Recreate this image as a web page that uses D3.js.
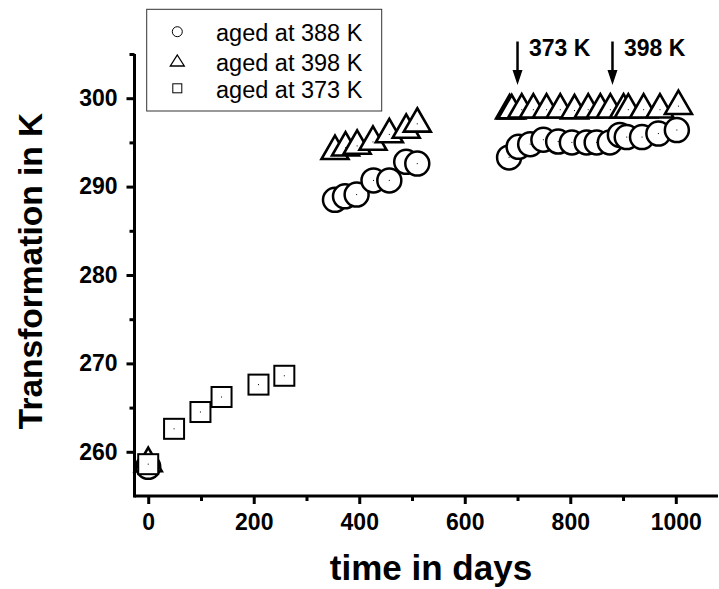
<!DOCTYPE html>
<html>
<head>
<meta charset="utf-8">
<script src="https://cdn.jsdelivr.net/npm/d3@7"></script>
<style>
  html, body { margin: 0; padding: 0; background: #fff; }
  svg { display: block; font-family: "Liberation Sans", Arial, Helvetica, sans-serif; }
</style>
</head>
<body>
<script>
// ---- data ----
const xTicks = [0, 200, 400, 600, 800, 1000];
const xMinorTicks = [100, 300, 500, 700, 900];
const yTicks = [260, 270, 280, 290, 300];
const yMinorTicks = [265, 275, 285, 295, 305];

// aged at 388 K (circles)
const c388Days = [0, 354, 373, 395, 427, 457, 489, 510, 684, 702, 724, 749, 777, 803, 831, 850, 875, 894, 907, 936, 967, 1002];
const c388Vals = [258.3, 288.5, 288.9, 289.1, 290.7, 290.7, 292.8, 292.6, 293.3, 294.5, 294.8, 295.3, 295.1, 295.0, 295.0, 295.0, 295.0, 295.85, 295.6, 295.6, 296.0, 296.4];

// aged at 398 K (triangles)
const t398Days = [0, 354, 374, 396, 426, 457, 489, 510, 685, 689, 708, 730, 755, 781, 808, 834, 857, 876, 901, 910, 939, 970, 1005];
const t398Vals = [258.7, 294.0, 294.4, 294.6, 295.05, 295.9, 296.4, 297.1, 298.6, 298.6, 298.7, 298.7, 298.7, 298.7, 298.6, 298.7, 298.7, 298.7, 298.7, 298.7, 298.7, 298.7, 299.1];

// aged at 373 K (squares)
const s373Days = [0, 49, 99, 139, 209, 258];
const s373Vals = [258.6, 262.6, 264.5, 266.2, 267.6, 268.6];

const legendLabels = ["aged at 388 K", "aged at 398 K", "aged at 373 K"];
const arrowDays = [700, 880];
const arrowLabels = ["373 K", "398 K"];

// ---- layout ----
const W = 719, H = 589;
const svg = d3.select("body").append("svg").attr("width", W).attr("height", H);

const x = d3.scaleLinear().domain([-26, 1080]).range([134.5, 718]);
const y = d3.scaleLinear().domain([255, 305]).range([496, 54]);

// ---- markers ----
const triPath = (() => {
  const hw = 13.5, h = 23.4;
  return `M0,${-h * 2 / 3}L${hw},${h / 3}L${-hw},${h / 3}Z`;
})();

function drawMarkers(days, vals, kind) {
  const g = svg.append("g");
  days.forEach((d, i) => {
    const m = g.append("g").attr("transform", `translate(${x(d)},${y(vals[i])})`);
    if (kind === "circle") {
      m.append("circle").attr("r", 12).attr("fill", "#fff").attr("stroke", "#000").attr("stroke-width", 2.5);
    } else if (kind === "tri") {
      m.append("path").attr("d", triPath).attr("fill", "#fff").attr("stroke", "#000")
        .attr("stroke-width", 2.6).attr("stroke-linejoin", "miter");
    } else {
      m.append("rect").attr("x", -10).attr("y", -10).attr("width", 20).attr("height", 20)
        .attr("fill", "#fff").attr("stroke", "#000").attr("stroke-width", 2);
    }
    m.append("rect").attr("x", -0.5).attr("y", -0.5).attr("width", 1).attr("height", 1).attr("fill", "#000");
  });
}
drawMarkers(c388Days, c388Vals, "circle");
drawMarkers(t398Days, t398Vals, "tri");
drawMarkers(s373Days, s373Vals, "square");

// ---- axes ----
const fontTick = 23;
const xAxis = svg.append("g").attr("transform", `translate(0,${y(255)})`)
  .call(d3.axisBottom(x).tickValues(xTicks).tickSize(8).tickPadding(10).tickFormat(d3.format("d")));
const xMinor = svg.append("g").attr("transform", `translate(0,${y(255)})`)
  .call(d3.axisBottom(x).tickValues(xMinorTicks).tickSize(5).tickFormat(""));
const yAxis = svg.append("g").attr("transform", `translate(${x(-26)},0)`)
  .call(d3.axisLeft(y).tickValues(yTicks).tickSize(8).tickPadding(9).tickFormat(d3.format("d")));
const yMinor = svg.append("g").attr("transform", `translate(${x(-26)},0)`)
  .call(d3.axisLeft(y).tickValues(yMinorTicks).tickSize(5).tickFormat(""));

[xAxis, xMinor, yAxis, yMinor].forEach(a => {
  a.select(".domain").remove();
  a.selectAll(".tick line").attr("stroke", "#000").attr("stroke-width", 3);
  a.selectAll(".tick text").attr("fill", "#000").style("font-size", fontTick + "px")
    .style("font-weight", "bold").style("font-family", '"Liberation Sans", Arial, sans-serif');
});
// axis lines
svg.append("line").attr("x1", x(-26)).attr("x2", x(1080)).attr("y1", y(255)).attr("y2", y(255))
  .attr("stroke", "#000").attr("stroke-width", 3);
svg.append("line").attr("x1", x(-26)).attr("x2", x(-26)).attr("y1", y(255) + 1.5).attr("y2", y(305))
  .attr("stroke", "#000").attr("stroke-width", 3);

// axis titles
svg.append("text").attr("x", 431).attr("y", 580).attr("text-anchor", "middle")
  .style("font-size", "35px").style("font-weight", "bold").text("time in days");
svg.append("text").attr("transform", "translate(41.5,271) rotate(-90)").attr("text-anchor", "middle")
  .style("font-size", "33.5px").style("font-weight", "bold").text("Transformation in K");

// ---- arrows & annotations ----
arrowDays.forEach((d, i) => {
  const ax = x(d);
  svg.append("line").attr("x1", ax).attr("x2", ax).attr("y1", 41.5).attr("y2", 72)
    .attr("stroke", "#000").attr("stroke-width", 2.5);
  svg.append("path").attr("d", `M${ax - 5},${70}L${ax + 5},${70}L${ax},${85}Z`).attr("fill", "#000");
  svg.append("text").attr("x", ax + 11.5).attr("y", 56).style("font-size", "23px")
    .style("font-weight", "bold").text(arrowLabels[i]);
});

// ---- legend ----
const lg = svg.append("g");
lg.append("rect").attr("x", 146.7).attr("y", 9.3).attr("width", 235).attr("height", 101.7)
  .attr("fill", "#fff").attr("stroke", "#333").attr("stroke-width", 1);
const rowY = [31.7, 61, 88.3];
const kinds = ["circle", "tri", "square"];
kinds.forEach((k, i) => {
  const m = lg.append("g").attr("transform", `translate(177.3,${rowY[i]})`);
  if (k === "circle") m.append("circle").attr("r", 5).attr("fill", "#fff").attr("stroke", "#000").attr("stroke-width", 1);
  else if (k === "tri") m.append("path").attr("d", "M0,-6L7,5L-7,5Z").attr("fill", "#fff").attr("stroke", "#000").attr("stroke-width", 1.3);
  else m.append("rect").attr("x", -4.5).attr("y", -4.5).attr("width", 9).attr("height", 9).attr("fill", "#fff").attr("stroke", "#000").attr("stroke-width", 1);
  lg.append("text").attr("x", 216).attr("y", rowY[i] + 9.5).style("font-size", "23.5px").text(legendLabels[i]);
});
</script>
</body>
</html>
